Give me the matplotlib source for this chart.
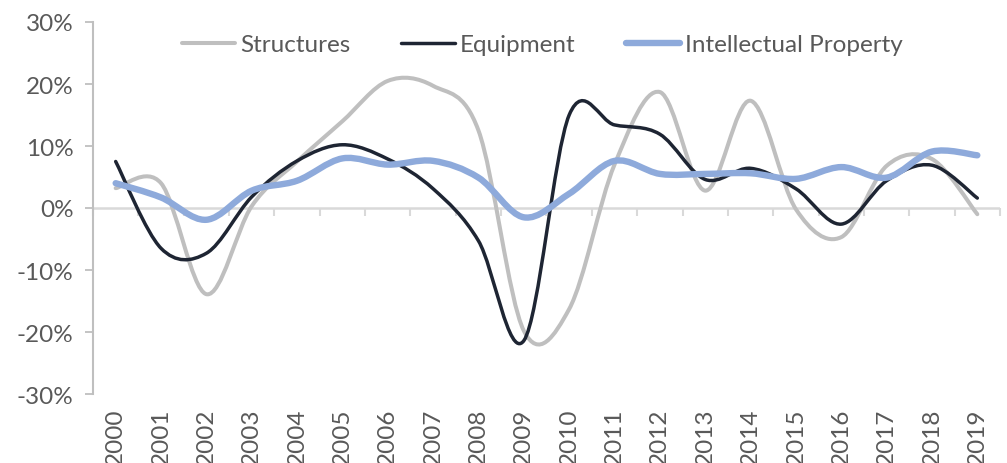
import numpy as np
import matplotlib
matplotlib.use('Agg')
import matplotlib.pyplot as plt
from matplotlib.path import Path
from matplotlib.patches import PathPatch
from matplotlib.lines import Line2D
from matplotlib.markers import TICKDOWN
from matplotlib.ticker import FuncFormatter

plt.rcParams['font.family'] = ['Lato', 'DejaVu Sans']

years = [str(y) for y in range(2000, 2020)]

# annual growth, %
structures = [3.2, 4.0, -13.9, 0.3, 7.5, 14.0, 20.5, 19.7, 12.5, -19.8,
              -16.3, 7.0, 18.7, 2.8, 17.3, -0.2, -4.7, 6.8, 7.9, -1.0]
equipment = [7.5, -6.5, -7.3, 1.8, 7.6, 10.2, 7.9, 3.1, -5.3, -21.4,
             15.0, 13.4, 11.9, 4.6, 6.4, 3.1, -2.6, 4.4, 6.9, 1.6]
intellectual = [4.0, 1.7, -1.9, 2.8, 4.4, 8.0, 7.0, 7.6, 4.9, -1.5,
                2.3, 7.6, 5.5, 5.5, 5.6, 4.7, 6.6, 4.9, 9.1, 8.5]

series = [
    ('Structures', structures, '#bfbfbf', 2.9),
    ('Equipment', equipment, '#1e2533', 2.5),
    ('Intellectual Property', intellectual, '#8eaadb', 4.6),
]

TEXT = '#595959'
FS = 17.5


def smooth_path(xs, ys):
    """Catmull-Rom style cubic Bezier through every point (like a smoothed line chart)."""
    pts = np.column_stack([xs, ys]).astype(float)
    n = len(pts)
    verts = [pts[0]]
    codes = [Path.MOVETO]
    for i in range(n - 1):
        p0 = pts[max(i - 1, 0)]
        p1 = pts[i]
        p2 = pts[i + 1]
        p3 = pts[min(i + 2, n - 1)]
        c1 = p1 + (p2 - p0) / 6.0
        c2 = p2 - (p3 - p1) / 6.0
        verts += [c1, c2, p2]
        codes += [Path.CURVE4] * 3
    return Path(verts, codes)


fig = plt.figure(figsize=(10.07, 4.64), dpi=100)
ax = fig.add_axes([93 / 1007, 1 - 395 / 464, 907 / 1007, 372 / 464])

x = np.arange(len(years))
ax.set_xlim(-0.5, len(years) - 0.5)
ax.set_ylim(-0.30, 0.30)

# category axis at zero, with tick marks between categories
bounds = np.arange(-0.5, len(years), 1.0)
ax.axhline(0, color='#d9d9d9', linewidth=1.8, zorder=1)
ax.plot(bounds, np.zeros_like(bounds), linestyle='none', marker=TICKDOWN,
        markersize=6, markeredgewidth=1.5, color='#d9d9d9', zorder=1,
        clip_on=False)

handles = []
for name, vals, color, lw in series:
    path = smooth_path(x, np.array(vals) / 100.0)
    ax.add_patch(PathPatch(path, fill=False, edgecolor=color, linewidth=lw,
                           capstyle='round', joinstyle='round', zorder=3))
    handles.append(Line2D([], [], color=color, linewidth=lw,
                          solid_capstyle='round', label=name))

# y axis
ax.set_yticks(np.arange(-0.30, 0.31, 0.10))
ax.yaxis.set_major_formatter(FuncFormatter(lambda v, _: f'{v * 100:.0f}%'))
ax.tick_params(axis='y', length=6, width=1.3, color='#bfbfbf',
               labelcolor=TEXT, labelsize=FS, pad=8)
for s in ['top', 'right', 'bottom']:
    ax.spines[s].set_visible(False)
ax.spines['left'].set_color('#bfbfbf')
ax.spines['left'].set_linewidth(1.5)

# category labels along the bottom
ax.set_xticks(x)
ax.set_xticklabels(years, rotation=90)
ax.tick_params(axis='x', length=0, labelcolor=TEXT, labelsize=FS, pad=10)

ax.legend(handles=handles, loc='upper center', bbox_to_anchor=(0.495, 1.0),
          ncol=3, frameon=False, fontsize=FS, labelcolor=TEXT,
          handlelength=2.2, handletextpad=0.2, columnspacing=2.1,
          borderaxespad=0.1)

fig.savefig('out.png', dpi=100)
